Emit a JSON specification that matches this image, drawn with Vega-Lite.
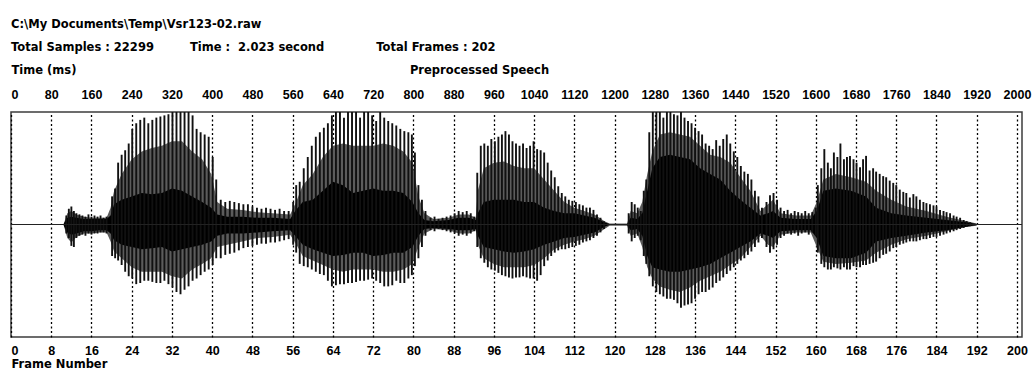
{
  "$schema": "https://vega.github.io/schema/vega-lite/v6.json",
  "width": 1011,
  "height": 225,
  "autosize": {"type": "none"},
  "padding": {"left": 11, "top": 112, "right": 12, "bottom": 33},
  "background": "white",
  "title": {
    "text": "C:\\My Documents\\Temp\\Vsr123-02.raw",
    "subtitle": "Total Samples : 22299\u00a0\u00a0\u00a0\u00a0\u00a0\u00a0\u00a0\u00a0\u00a0Time : \u00a02.023 second\u00a0\u00a0\u00a0\u00a0\u00a0\u00a0\u00a0\u00a0\u00a0\u00a0\u00a0\u00a0\u00a0Total Frames : 202",
    "anchor": "start",
    "frame": "group",
    "offset": 11,
    "font": "DejaVu Sans",
    "fontSize": 11.5,
    "fontWeight": "bold",
    "color": "#000",
    "subtitleFont": "DejaVu Sans",
    "subtitleFontSize": 11.5,
    "subtitleFontWeight": "bold",
    "subtitleColor": "#000",
    "subtitlePadding": 11
  },
  "config": {
    "view": {"stroke": "#3c3c3c", "strokeWidth": 1.5},
    "axis": {
      "labelFont": "Liberation Sans",
      "labelFontSize": 12.5,
      "labelFontWeight": "bold",
      "labelColor": "#000",
      "titleFont": "DejaVu Sans",
      "titleFontSize": 11.5,
      "titleFontWeight": "bold",
      "titleColor": "#000",
      "ticks": false,
      "tickSize": 0,
      "domain": false,
      "format": "d"
    },
    "axisTop": {
      "grid": true,
      "gridColor": "#000",
      "gridDash": [2, 2.5],
      "gridWidth": 1.3,
      "gridOpacity": 1,
      "labelFlush": true,
      "labelPadding": 11,
      "labelOverlap": false,
      "titleX": 468,
      "titleY": -42,
      "titleAlign": "center",
      "titleBaseline": "middle"
    },
    "axisBottom": {
      "grid": false,
      "labelFlush": true,
      "labelPadding": 7,
      "labelOverlap": false,
      "titleX": 0,
      "titleY": 27,
      "titleAlign": "left",
      "titleBaseline": "middle"
    },
    "axisLeft": {
      "labels": false,
      "grid": false,
      "titleAngle": 0,
      "titleX": 0,
      "titleY": -42,
      "titleAlign": "left",
      "titleBaseline": "middle"
    }
  },
  "datasets": {
    "envelope": [
      {"t": 105, "hi": 0.01, "lo": -0.01, "mhi": 0.01, "mlo": -0.01},
      {"t": 112, "hi": 0.06, "lo": -0.07, "mhi": 0.1, "mlo": -0.12},
      {"t": 120, "hi": 0.07, "lo": -0.09, "mhi": 0.12, "mlo": -0.16},
      {"t": 130, "hi": 0.06, "lo": -0.08, "mhi": 0.09, "mlo": -0.11},
      {"t": 145, "hi": 0.05, "lo": -0.06, "mhi": 0.07, "mlo": -0.08},
      {"t": 160, "hi": 0.05, "lo": -0.06, "mhi": 0.06, "mlo": -0.08},
      {"t": 175, "hi": 0.05, "lo": -0.05, "mhi": 0.06, "mlo": -0.07},
      {"t": 190, "hi": 0.05, "lo": -0.05, "mhi": 0.06, "mlo": -0.07},
      {"t": 198, "hi": 0.08, "lo": -0.08, "mhi": 0.15, "mlo": -0.15},
      {"t": 205, "hi": 0.18, "lo": -0.14, "mhi": 0.3, "mlo": -0.24},
      {"t": 220, "hi": 0.22, "lo": -0.18, "mhi": 0.45, "mlo": -0.3},
      {"t": 240, "hi": 0.25, "lo": -0.2, "mhi": 0.58, "mlo": -0.38},
      {"t": 260, "hi": 0.28, "lo": -0.22, "mhi": 0.65, "mlo": -0.42},
      {"t": 280, "hi": 0.27, "lo": -0.21, "mhi": 0.68, "mlo": -0.42},
      {"t": 300, "hi": 0.28, "lo": -0.2, "mhi": 0.7, "mlo": -0.42},
      {"t": 320, "hi": 0.32, "lo": -0.24, "mhi": 0.74, "mlo": -0.46},
      {"t": 340, "hi": 0.3, "lo": -0.22, "mhi": 0.74, "mlo": -0.48},
      {"t": 360, "hi": 0.25, "lo": -0.2, "mhi": 0.65, "mlo": -0.4},
      {"t": 380, "hi": 0.2, "lo": -0.18, "mhi": 0.58, "mlo": -0.35},
      {"t": 398, "hi": 0.15, "lo": -0.15, "mhi": 0.45, "mlo": -0.3},
      {"t": 410, "hi": 0.09, "lo": -0.1, "mhi": 0.2, "mlo": -0.2},
      {"t": 430, "hi": 0.07, "lo": -0.08, "mhi": 0.14, "mlo": -0.18},
      {"t": 460, "hi": 0.07, "lo": -0.08, "mhi": 0.13, "mlo": -0.15},
      {"t": 490, "hi": 0.06, "lo": -0.07, "mhi": 0.11, "mlo": -0.12},
      {"t": 520, "hi": 0.06, "lo": -0.06, "mhi": 0.1, "mlo": -0.11},
      {"t": 555, "hi": 0.05, "lo": -0.05, "mhi": 0.09, "mlo": -0.09},
      {"t": 565, "hi": 0.12, "lo": -0.1, "mhi": 0.18, "mlo": -0.16},
      {"t": 580, "hi": 0.2, "lo": -0.18, "mhi": 0.35, "mlo": -0.28},
      {"t": 600, "hi": 0.22, "lo": -0.22, "mhi": 0.45, "mlo": -0.32},
      {"t": 620, "hi": 0.3, "lo": -0.25, "mhi": 0.6, "mlo": -0.36},
      {"t": 640, "hi": 0.38, "lo": -0.28, "mhi": 0.7, "mlo": -0.4},
      {"t": 660, "hi": 0.35, "lo": -0.27, "mhi": 0.72, "mlo": -0.42},
      {"t": 680, "hi": 0.28, "lo": -0.25, "mhi": 0.7, "mlo": -0.4},
      {"t": 700, "hi": 0.3, "lo": -0.25, "mhi": 0.7, "mlo": -0.4},
      {"t": 720, "hi": 0.32, "lo": -0.28, "mhi": 0.7, "mlo": -0.4},
      {"t": 740, "hi": 0.3, "lo": -0.27, "mhi": 0.72, "mlo": -0.42},
      {"t": 760, "hi": 0.3, "lo": -0.25, "mhi": 0.7, "mlo": -0.42},
      {"t": 780, "hi": 0.28, "lo": -0.25, "mhi": 0.65, "mlo": -0.4},
      {"t": 798, "hi": 0.2, "lo": -0.2, "mhi": 0.55, "mlo": -0.35},
      {"t": 810, "hi": 0.1, "lo": -0.1, "mhi": 0.25, "mlo": -0.2},
      {"t": 822, "hi": 0.04, "lo": -0.04, "mhi": 0.1, "mlo": -0.08},
      {"t": 840, "hi": 0.03, "lo": -0.03, "mhi": 0.05, "mlo": -0.04},
      {"t": 870, "hi": 0.04, "lo": -0.04, "mhi": 0.06, "mlo": -0.05},
      {"t": 890, "hi": 0.06, "lo": -0.05, "mhi": 0.09, "mlo": -0.08},
      {"t": 910, "hi": 0.06, "lo": -0.05, "mhi": 0.09, "mlo": -0.08},
      {"t": 924, "hi": 0.04, "lo": -0.04, "mhi": 0.06, "mlo": -0.05},
      {"t": 928, "hi": 0.1, "lo": -0.1, "mhi": 0.3, "mlo": -0.18},
      {"t": 940, "hi": 0.2, "lo": -0.2, "mhi": 0.5, "mlo": -0.3},
      {"t": 960, "hi": 0.22, "lo": -0.22, "mhi": 0.55, "mlo": -0.35},
      {"t": 980, "hi": 0.22, "lo": -0.24, "mhi": 0.56, "mlo": -0.38},
      {"t": 1000, "hi": 0.22, "lo": -0.25, "mhi": 0.52, "mlo": -0.38},
      {"t": 1020, "hi": 0.2, "lo": -0.24, "mhi": 0.5, "mlo": -0.38},
      {"t": 1040, "hi": 0.2, "lo": -0.22, "mhi": 0.5, "mlo": -0.36},
      {"t": 1060, "hi": 0.15, "lo": -0.18, "mhi": 0.4, "mlo": -0.3},
      {"t": 1080, "hi": 0.12, "lo": -0.15, "mhi": 0.3, "mlo": -0.22},
      {"t": 1100, "hi": 0.1, "lo": -0.12, "mhi": 0.2, "mlo": -0.18},
      {"t": 1120, "hi": 0.1, "lo": -0.11, "mhi": 0.15, "mlo": -0.15},
      {"t": 1140, "hi": 0.08, "lo": -0.09, "mhi": 0.12, "mlo": -0.13},
      {"t": 1160, "hi": 0.06, "lo": -0.07, "mhi": 0.09, "mlo": -0.1},
      {"t": 1180, "hi": 0.02, "lo": -0.02, "mhi": 0.03, "mlo": -0.04},
      {"t": 1190, "hi": 0.005, "lo": -0.005, "mhi": 0.01, "mlo": -0.01},
      {"t": 1225, "hi": 0.005, "lo": -0.005, "mhi": 0.01, "mlo": -0.01},
      {"t": 1232, "hi": 0.06, "lo": -0.05, "mhi": 0.12, "mlo": -0.1},
      {"t": 1245, "hi": 0.05, "lo": -0.04, "mhi": 0.1, "mlo": -0.08},
      {"t": 1255, "hi": 0.1, "lo": -0.1, "mhi": 0.2, "mlo": -0.2},
      {"t": 1265, "hi": 0.3, "lo": -0.28, "mhi": 0.45, "mlo": -0.38},
      {"t": 1275, "hi": 0.5, "lo": -0.38, "mhi": 0.65, "mlo": -0.48},
      {"t": 1290, "hi": 0.6, "lo": -0.4, "mhi": 0.8, "mlo": -0.55},
      {"t": 1310, "hi": 0.62, "lo": -0.42, "mhi": 0.82, "mlo": -0.58},
      {"t": 1330, "hi": 0.6, "lo": -0.42, "mhi": 0.8, "mlo": -0.6},
      {"t": 1350, "hi": 0.58, "lo": -0.4, "mhi": 0.78, "mlo": -0.56},
      {"t": 1370, "hi": 0.5, "lo": -0.38, "mhi": 0.7, "mlo": -0.5},
      {"t": 1390, "hi": 0.45, "lo": -0.35, "mhi": 0.62, "mlo": -0.46},
      {"t": 1410, "hi": 0.4, "lo": -0.3, "mhi": 0.6, "mlo": -0.42},
      {"t": 1430, "hi": 0.3, "lo": -0.25, "mhi": 0.55, "mlo": -0.36},
      {"t": 1450, "hi": 0.22, "lo": -0.2, "mhi": 0.42, "mlo": -0.3},
      {"t": 1470, "hi": 0.15, "lo": -0.15, "mhi": 0.3, "mlo": -0.2},
      {"t": 1490, "hi": 0.08, "lo": -0.08, "mhi": 0.12, "mlo": -0.1},
      {"t": 1505, "hi": 0.1, "lo": -0.1, "mhi": 0.18, "mlo": -0.18},
      {"t": 1515, "hi": 0.12, "lo": -0.12, "mhi": 0.22, "mlo": -0.2},
      {"t": 1530, "hi": 0.06, "lo": -0.06, "mhi": 0.1, "mlo": -0.09},
      {"t": 1560, "hi": 0.05, "lo": -0.05, "mhi": 0.08, "mlo": -0.07},
      {"t": 1590, "hi": 0.05, "lo": -0.05, "mhi": 0.08, "mlo": -0.07},
      {"t": 1602, "hi": 0.12, "lo": -0.12, "mhi": 0.2, "mlo": -0.2},
      {"t": 1615, "hi": 0.3, "lo": -0.28, "mhi": 0.4, "mlo": -0.33},
      {"t": 1640, "hi": 0.32, "lo": -0.3, "mhi": 0.45, "mlo": -0.35},
      {"t": 1670, "hi": 0.3, "lo": -0.3, "mhi": 0.42, "mlo": -0.34},
      {"t": 1700, "hi": 0.25, "lo": -0.25, "mhi": 0.38, "mlo": -0.32},
      {"t": 1720, "hi": 0.15, "lo": -0.15, "mhi": 0.3, "mlo": -0.25},
      {"t": 1750, "hi": 0.1, "lo": -0.12, "mhi": 0.22, "mlo": -0.18},
      {"t": 1780, "hi": 0.08, "lo": -0.1, "mhi": 0.16, "mlo": -0.13},
      {"t": 1820, "hi": 0.06, "lo": -0.07, "mhi": 0.12, "mlo": -0.1},
      {"t": 1860, "hi": 0.04, "lo": -0.05, "mhi": 0.07, "mlo": -0.06},
      {"t": 1900, "hi": 0.02, "lo": -0.02, "mhi": 0.03, "mlo": -0.02},
      {"t": 1920, "hi": 0.005, "lo": -0.005, "mhi": 0.01, "mlo": -0.01}
    ],
    "pulses": [
      {"t": 110, "hi": 0.08, "lo": -0.08}, {"t": 115, "hi": 0.14, "lo": -0.12},
      {"t": 120, "hi": 0.16, "lo": -0.19}, {"t": 125, "hi": 0.12, "lo": -0.2},
      {"t": 130, "hi": 0.1, "lo": -0.12}, {"t": 136, "hi": 0.09, "lo": -0.1},
      {"t": 142, "hi": 0.08, "lo": -0.09}, {"t": 148, "hi": 0.07, "lo": -0.1},
      {"t": 154, "hi": 0.09, "lo": -0.08}, {"t": 160, "hi": 0.07, "lo": -0.09},
      {"t": 166, "hi": 0.08, "lo": -0.08}, {"t": 172, "hi": 0.07, "lo": -0.08},
      {"t": 178, "hi": 0.08, "lo": -0.07}, {"t": 184, "hi": 0.06, "lo": -0.07},
      {"t": 190, "hi": 0.07, "lo": -0.08},
      {"t": 201, "hi": 0.25, "lo": -0.28}, {"t": 207, "hi": 0.32, "lo": -0.3},
      {"t": 213, "hi": 0.55, "lo": -0.32}, {"t": 220, "hi": 0.62, "lo": -0.36},
      {"t": 227, "hi": 0.66, "lo": -0.42}, {"t": 234, "hi": 0.72, "lo": -0.46},
      {"t": 241, "hi": 0.85, "lo": -0.48}, {"t": 249, "hi": 0.9, "lo": -0.53},
      {"t": 257, "hi": 0.93, "lo": -0.52}, {"t": 265, "hi": 0.95, "lo": -0.5},
      {"t": 273, "hi": 0.9, "lo": -0.5}, {"t": 281, "hi": 0.93, "lo": -0.51},
      {"t": 289, "hi": 0.95, "lo": -0.52}, {"t": 297, "hi": 0.96, "lo": -0.52},
      {"t": 305, "hi": 0.97, "lo": -0.5}, {"t": 313, "hi": 0.98, "lo": -0.53},
      {"t": 321, "hi": 1.0, "lo": -0.56}, {"t": 329, "hi": 1.0, "lo": -0.6},
      {"t": 337, "hi": 1.0, "lo": -0.62}, {"t": 345, "hi": 1.0, "lo": -0.58},
      {"t": 353, "hi": 1.0, "lo": -0.55}, {"t": 361, "hi": 0.97, "lo": -0.5},
      {"t": 369, "hi": 0.85, "lo": -0.48}, {"t": 377, "hi": 0.82, "lo": -0.45},
      {"t": 385, "hi": 0.8, "lo": -0.42}, {"t": 393, "hi": 0.78, "lo": -0.4},
      {"t": 401, "hi": 0.6, "lo": -0.36}, {"t": 408, "hi": 0.4, "lo": -0.3},
      {"t": 417, "hi": 0.22, "lo": -0.3}, {"t": 426, "hi": 0.2, "lo": -0.27},
      {"t": 435, "hi": 0.21, "lo": -0.26}, {"t": 444, "hi": 0.2, "lo": -0.25},
      {"t": 453, "hi": 0.19, "lo": -0.23}, {"t": 462, "hi": 0.18, "lo": -0.21},
      {"t": 471, "hi": 0.18, "lo": -0.2}, {"t": 480, "hi": 0.16, "lo": -0.19},
      {"t": 489, "hi": 0.15, "lo": -0.18}, {"t": 498, "hi": 0.14, "lo": -0.17},
      {"t": 507, "hi": 0.15, "lo": -0.17}, {"t": 516, "hi": 0.14, "lo": -0.16},
      {"t": 525, "hi": 0.13, "lo": -0.16}, {"t": 534, "hi": 0.14, "lo": -0.15},
      {"t": 543, "hi": 0.12, "lo": -0.14}, {"t": 552, "hi": 0.12, "lo": -0.13},
      {"t": 561, "hi": 0.2, "lo": -0.18}, {"t": 567, "hi": 0.35, "lo": -0.25},
      {"t": 574, "hi": 0.38, "lo": -0.35}, {"t": 582, "hi": 0.5, "lo": -0.37},
      {"t": 590, "hi": 0.6, "lo": -0.38}, {"t": 598, "hi": 0.7, "lo": -0.4},
      {"t": 606, "hi": 0.78, "lo": -0.42}, {"t": 614, "hi": 0.82, "lo": -0.44},
      {"t": 622, "hi": 0.86, "lo": -0.45}, {"t": 630, "hi": 0.9, "lo": -0.5},
      {"t": 638, "hi": 0.97, "lo": -0.55}, {"t": 646, "hi": 1.0, "lo": -0.54},
      {"t": 654, "hi": 1.0, "lo": -0.53}, {"t": 662, "hi": 0.95, "lo": -0.53},
      {"t": 670, "hi": 1.0, "lo": -0.52}, {"t": 678, "hi": 1.0, "lo": -0.52},
      {"t": 686, "hi": 1.0, "lo": -0.51}, {"t": 694, "hi": 0.95, "lo": -0.5},
      {"t": 702, "hi": 1.0, "lo": -0.5}, {"t": 710, "hi": 1.0, "lo": -0.49},
      {"t": 718, "hi": 0.97, "lo": -0.48}, {"t": 726, "hi": 0.92, "lo": -0.5},
      {"t": 734, "hi": 1.0, "lo": -0.52}, {"t": 742, "hi": 0.95, "lo": -0.55},
      {"t": 750, "hi": 0.92, "lo": -0.55}, {"t": 758, "hi": 0.9, "lo": -0.54},
      {"t": 766, "hi": 0.88, "lo": -0.5}, {"t": 774, "hi": 0.85, "lo": -0.52},
      {"t": 782, "hi": 0.83, "lo": -0.52}, {"t": 790, "hi": 0.82, "lo": -0.48},
      {"t": 797, "hi": 0.8, "lo": -0.45}, {"t": 803, "hi": 0.64, "lo": -0.37},
      {"t": 810, "hi": 0.35, "lo": -0.3}, {"t": 817, "hi": 0.22, "lo": -0.2},
      {"t": 824, "hi": 0.12, "lo": -0.1},
      {"t": 834, "hi": 0.06, "lo": -0.05}, {"t": 842, "hi": 0.07, "lo": -0.06},
      {"t": 850, "hi": 0.05, "lo": -0.04}, {"t": 858, "hi": 0.06, "lo": -0.05},
      {"t": 866, "hi": 0.07, "lo": -0.06}, {"t": 874, "hi": 0.08, "lo": -0.07},
      {"t": 882, "hi": 0.1, "lo": -0.08}, {"t": 890, "hi": 0.12, "lo": -0.1},
      {"t": 898, "hi": 0.11, "lo": -0.09}, {"t": 906, "hi": 0.12, "lo": -0.1},
      {"t": 914, "hi": 0.1, "lo": -0.08}, {"t": 921, "hi": 0.07, "lo": -0.06},
      {"t": 927, "hi": 0.46, "lo": -0.2}, {"t": 934, "hi": 0.7, "lo": -0.3},
      {"t": 941, "hi": 0.72, "lo": -0.34}, {"t": 948, "hi": 0.7, "lo": -0.38},
      {"t": 955, "hi": 0.76, "lo": -0.4}, {"t": 962, "hi": 0.74, "lo": -0.41},
      {"t": 969, "hi": 0.78, "lo": -0.43}, {"t": 976, "hi": 0.8, "lo": -0.45},
      {"t": 983, "hi": 0.83, "lo": -0.46}, {"t": 990, "hi": 0.8, "lo": -0.47},
      {"t": 997, "hi": 0.74, "lo": -0.48}, {"t": 1004, "hi": 0.72, "lo": -0.47},
      {"t": 1011, "hi": 0.7, "lo": -0.47}, {"t": 1018, "hi": 0.72, "lo": -0.46},
      {"t": 1025, "hi": 0.68, "lo": -0.47}, {"t": 1032, "hi": 0.7, "lo": -0.48},
      {"t": 1039, "hi": 0.74, "lo": -0.48}, {"t": 1046, "hi": 0.67, "lo": -0.5},
      {"t": 1053, "hi": 0.66, "lo": -0.45}, {"t": 1060, "hi": 0.64, "lo": -0.37},
      {"t": 1067, "hi": 0.55, "lo": -0.32}, {"t": 1074, "hi": 0.48, "lo": -0.28},
      {"t": 1081, "hi": 0.42, "lo": -0.25}, {"t": 1088, "hi": 0.34, "lo": -0.23},
      {"t": 1095, "hi": 0.28, "lo": -0.22}, {"t": 1102, "hi": 0.25, "lo": -0.22},
      {"t": 1109, "hi": 0.22, "lo": -0.21}, {"t": 1116, "hi": 0.21, "lo": -0.2},
      {"t": 1123, "hi": 0.2, "lo": -0.19}, {"t": 1130, "hi": 0.18, "lo": -0.18},
      {"t": 1137, "hi": 0.17, "lo": -0.16}, {"t": 1144, "hi": 0.15, "lo": -0.15},
      {"t": 1151, "hi": 0.15, "lo": -0.14}, {"t": 1158, "hi": 0.13, "lo": -0.12},
      {"t": 1165, "hi": 0.09, "lo": -0.1}, {"t": 1172, "hi": 0.06, "lo": -0.07},
      {"t": 1179, "hi": 0.03, "lo": -0.04},
      {"t": 1228, "hi": 0.1, "lo": -0.08}, {"t": 1234, "hi": 0.2, "lo": -0.15},
      {"t": 1240, "hi": 0.18, "lo": -0.12}, {"t": 1246, "hi": 0.15, "lo": -0.1},
      {"t": 1252, "hi": 0.12, "lo": -0.14},
      {"t": 1258, "hi": 0.3, "lo": -0.28}, {"t": 1263, "hi": 0.4, "lo": -0.35},
      {"t": 1269, "hi": 0.82, "lo": -0.46}, {"t": 1276, "hi": 1.0, "lo": -0.55},
      {"t": 1283, "hi": 1.0, "lo": -0.6}, {"t": 1290, "hi": 1.0, "lo": -0.62},
      {"t": 1297, "hi": 0.95, "lo": -0.64}, {"t": 1304, "hi": 1.0, "lo": -0.66},
      {"t": 1311, "hi": 1.0, "lo": -0.66}, {"t": 1318, "hi": 0.98, "lo": -0.67},
      {"t": 1325, "hi": 0.97, "lo": -0.7}, {"t": 1332, "hi": 1.0, "lo": -0.74},
      {"t": 1339, "hi": 0.95, "lo": -0.72}, {"t": 1346, "hi": 0.92, "lo": -0.71},
      {"t": 1353, "hi": 0.9, "lo": -0.7}, {"t": 1360, "hi": 0.86, "lo": -0.66},
      {"t": 1367, "hi": 0.83, "lo": -0.62}, {"t": 1374, "hi": 0.8, "lo": -0.6},
      {"t": 1381, "hi": 0.72, "lo": -0.6}, {"t": 1388, "hi": 0.7, "lo": -0.58},
      {"t": 1395, "hi": 0.67, "lo": -0.56}, {"t": 1402, "hi": 0.75, "lo": -0.52},
      {"t": 1409, "hi": 0.7, "lo": -0.5}, {"t": 1416, "hi": 0.76, "lo": -0.47},
      {"t": 1423, "hi": 0.8, "lo": -0.44}, {"t": 1430, "hi": 0.72, "lo": -0.41},
      {"t": 1437, "hi": 0.65, "lo": -0.38}, {"t": 1444, "hi": 0.6, "lo": -0.35},
      {"t": 1451, "hi": 0.52, "lo": -0.32}, {"t": 1458, "hi": 0.47, "lo": -0.3},
      {"t": 1465, "hi": 0.45, "lo": -0.27}, {"t": 1472, "hi": 0.4, "lo": -0.24},
      {"t": 1479, "hi": 0.3, "lo": -0.2}, {"t": 1486, "hi": 0.25, "lo": -0.16},
      {"t": 1493, "hi": 0.15, "lo": -0.12},
      {"t": 1502, "hi": 0.2, "lo": -0.2}, {"t": 1509, "hi": 0.26, "lo": -0.25},
      {"t": 1516, "hi": 0.28, "lo": -0.22}, {"t": 1523, "hi": 0.22, "lo": -0.18},
      {"t": 1530, "hi": 0.15, "lo": -0.12}, {"t": 1537, "hi": 0.12, "lo": -0.1},
      {"t": 1544, "hi": 0.13, "lo": -0.08}, {"t": 1551, "hi": 0.1, "lo": -0.09},
      {"t": 1558, "hi": 0.12, "lo": -0.08}, {"t": 1565, "hi": 0.11, "lo": -0.1},
      {"t": 1572, "hi": 0.1, "lo": -0.08}, {"t": 1579, "hi": 0.12, "lo": -0.07},
      {"t": 1586, "hi": 0.1, "lo": -0.09}, {"t": 1593, "hi": 0.11, "lo": -0.07},
      {"t": 1600, "hi": 0.15, "lo": -0.1},
      {"t": 1604, "hi": 0.35, "lo": -0.25}, {"t": 1611, "hi": 0.5, "lo": -0.35},
      {"t": 1617, "hi": 0.67, "lo": -0.38}, {"t": 1624, "hi": 0.55, "lo": -0.4},
      {"t": 1630, "hi": 0.5, "lo": -0.4}, {"t": 1636, "hi": 0.64, "lo": -0.38},
      {"t": 1643, "hi": 0.6, "lo": -0.39}, {"t": 1649, "hi": 0.72, "lo": -0.4},
      {"t": 1656, "hi": 0.58, "lo": -0.38}, {"t": 1662, "hi": 0.6, "lo": -0.4},
      {"t": 1668, "hi": 0.61, "lo": -0.4}, {"t": 1675, "hi": 0.58, "lo": -0.37},
      {"t": 1681, "hi": 0.55, "lo": -0.38}, {"t": 1688, "hi": 0.51, "lo": -0.38},
      {"t": 1694, "hi": 0.58, "lo": -0.36}, {"t": 1700, "hi": 0.61, "lo": -0.36},
      {"t": 1707, "hi": 0.48, "lo": -0.35}, {"t": 1714, "hi": 0.5, "lo": -0.34},
      {"t": 1720, "hi": 0.47, "lo": -0.33}, {"t": 1727, "hi": 0.45, "lo": -0.3},
      {"t": 1734, "hi": 0.43, "lo": -0.27}, {"t": 1740, "hi": 0.42, "lo": -0.26},
      {"t": 1747, "hi": 0.39, "lo": -0.24}, {"t": 1754, "hi": 0.37, "lo": -0.21},
      {"t": 1760, "hi": 0.35, "lo": -0.2}, {"t": 1767, "hi": 0.31, "lo": -0.18},
      {"t": 1774, "hi": 0.29, "lo": -0.17}, {"t": 1780, "hi": 0.28, "lo": -0.16},
      {"t": 1787, "hi": 0.24, "lo": -0.15}, {"t": 1794, "hi": 0.27, "lo": -0.15},
      {"t": 1800, "hi": 0.25, "lo": -0.15}, {"t": 1807, "hi": 0.22, "lo": -0.14},
      {"t": 1814, "hi": 0.2, "lo": -0.13}, {"t": 1820, "hi": 0.19, "lo": -0.13},
      {"t": 1827, "hi": 0.18, "lo": -0.12}, {"t": 1834, "hi": 0.17, "lo": -0.11},
      {"t": 1840, "hi": 0.16, "lo": -0.11}, {"t": 1847, "hi": 0.13, "lo": -0.1},
      {"t": 1854, "hi": 0.12, "lo": -0.09}, {"t": 1860, "hi": 0.11, "lo": -0.08},
      {"t": 1867, "hi": 0.1, "lo": -0.07}, {"t": 1874, "hi": 0.08, "lo": -0.06},
      {"t": 1880, "hi": 0.07, "lo": -0.05}, {"t": 1887, "hi": 0.06, "lo": -0.04},
      {"t": 1894, "hi": 0.04, "lo": -0.03}, {"t": 1900, "hi": 0.03, "lo": -0.02},
      {"t": 1907, "hi": 0.02, "lo": -0.015}
    ],
    "baseline": [
      {"frame": 0, "level": 0},
      {"frame": 201, "level": 0}
    ]
  },
  "layer": [
    {
      "encoding": {
        "x": {
          "field": "t",
          "type": "quantitative",
          "title": "Preprocessed Speech",
          "scale": {"domain": [0, 2010], "nice": false, "zero": false},
          "axis": {
            "orient": "top",
            "values": [0, 80, 160, 240, 320, 400, 480, 560, 640, 720, 800, 880, 960, 1040, 1120, 1200, 1280, 1360, 1440, 1520, 1600, 1680, 1760, 1840, 1920, 2000]
          }
        }
      },
      "layer": [
        {
          "data": {"name": "envelope"},
          "mark": {"type": "area", "color": "#5c5c5c", "opacity": 1, "clip": true},
          "encoding": {
            "y": {"field": "mhi", "type": "quantitative", "title": "Time (ms)", "scale": {"domain": [-1, 1], "nice": false}},
            "y2": {"field": "mlo"}
          }
        },
        {
          "data": {"name": "envelope"},
          "mark": {"type": "area", "color": "#000000", "opacity": 1, "clip": true},
          "encoding": {
            "y": {"field": "hi", "type": "quantitative", "title": "Time (ms)"},
            "y2": {"field": "lo"}
          }
        },
        {
          "data": {"name": "pulses"},
          "mark": {"type": "rule", "color": "#111111", "strokeWidth": 1.9, "clip": true},
          "encoding": {
            "y": {"field": "hi", "type": "quantitative", "title": "Time (ms)"},
            "y2": {"field": "lo"}
          }
        }
      ]
    },
    {
      "data": {"name": "baseline"},
      "mark": {"type": "line", "color": "#222222", "strokeWidth": 1.2},
      "encoding": {
        "x": {
          "field": "frame",
          "type": "quantitative",
          "title": "Frame Number",
          "scale": {"domain": [0, 201], "nice": false, "zero": false},
          "axis": {
            "orient": "bottom",
            "values": [0, 8, 16, 24, 32, 40, 48, 56, 64, 72, 80, 88, 96, 104, 112, 120, 128, 136, 144, 152, 160, 168, 176, 184, 192, 200]
          }
        },
        "y": {"field": "level", "type": "quantitative", "title": "Time (ms)"}
      }
    }
  ],
  "resolve": {"scale": {"x": "independent"}, "axis": {"x": "independent"}}
}
